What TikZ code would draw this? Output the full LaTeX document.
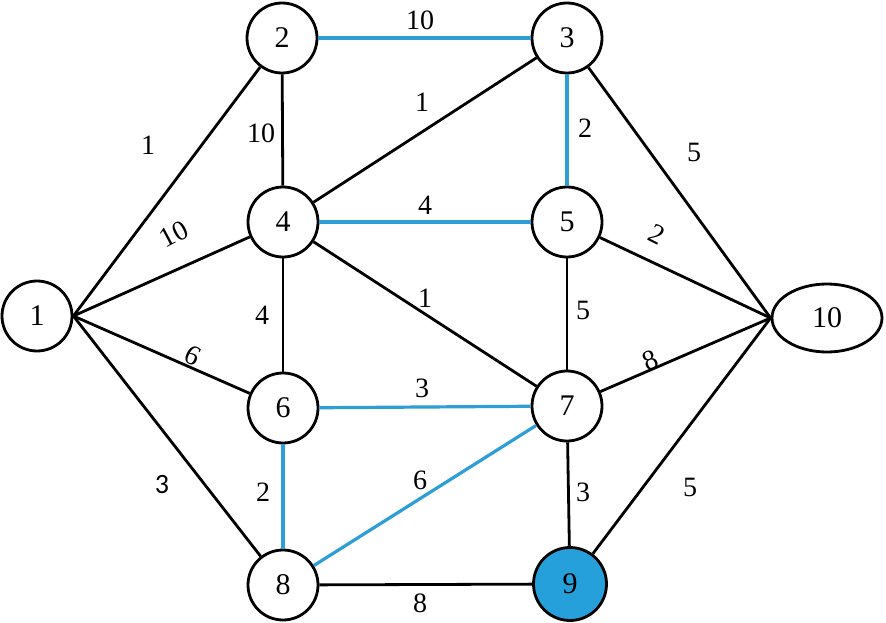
\documentclass[tikz,border=0pt]{standalone}
\usepackage{fontspec}
\setmainfont{Liberation Serif}
\newfontfamily\sansnum{Carlito}
\usetikzlibrary{shapes.geometric}
\definecolor{eblue}{RGB}{46,158,214}
\definecolor{nblue}{RGB}{38,160,218}
\begin{document}
\begin{tikzpicture}[x=1pt,y=-1pt,
  vert/.style={circle,draw=black,line width=2.8pt,minimum size=70pt,inner sep=0pt,font=\fontsize{30}{34}\selectfont,fill=white},
  wlab/.style={font=\fontsize{28}{32}\selectfont,inner sep=0pt},
  bl/.style={draw=black,line width=2.8pt},
  be/.style={draw=eblue,line width=3.2pt}]
\useasboundingbox (0,0) rectangle (886,623);
\fill[white] (0,0) rectangle (886,623);
\node[vert] (n1) at (37,316) {1};
\node[vert] (n2) at (282,38) {2};
\node[vert] (n3) at (567,38) {3};
\node[vert] (n4) at (283,222) {4};
\node[vert] (n5) at (567,222) {5};
\node[vert] (n6) at (283,408) {6};
\node[vert] (n7) at (567,406) {7};
\node[vert] (n8) at (283,585) {8};
\node[vert,fill=nblue,minimum size=73pt] (n9) at (570,584) {9};
\node[vert,ellipse,minimum width=110pt,minimum height=68pt] (n10) at (827,318) {10};
% black edges
\draw[bl] (n1.east) -- (n2);
\draw[bl] (n1.east) -- (n4);
\draw[bl] (n1.east) -- (n6);
\draw[bl] (n1.east) -- (n8);
\draw[bl] (n2) -- (n4);
\draw[bl] (n3) -- (n4);
\draw[bl] (n3) -- (n10.west);
\draw[bl] (n4) -- (n6);
\draw[bl] (n4) -- (n7);
\draw[bl] (n5) -- (n7);
\draw[bl] (n5) -- (n10.west);
\draw[bl] (n7) -- (n9);
\draw[bl] (n7) -- (n10.west);
\draw[bl] (n8) -- (n9);
\draw[bl] (n9) -- (n10.west);
% blue edges
\draw[be] (n2) -- (n3);
\draw[be] (n3) -- (n5);
\draw[be] (n4) -- (n5);
\draw[be] (n6) -- (n7);
\draw[be] (n6) -- (n8);
\draw[be] (n7) -- (n8);
% labels
\node[wlab] (l12) at (148,145) {1};
\node[wlab,rotate=28] (l14) at (174,234) {10};
\node[wlab,rotate=-27] (l16) at (193,356) {6};
\node[wlab] (l18) at (162,485) {\sansnum 3};
\node[wlab] (l23) at (420,20) {10};
\node[wlab] (l24) at (261,133) {10};
\node[wlab] (l34) at (422,102) {1};
\node[wlab] (l35) at (585,128) {2};
\node[wlab] (l310) at (694,152) {5};
\node[wlab] (l45) at (425,205) {4};
\node[wlab] (l46) at (262,315) {4};
\node[wlab] (l47) at (425,298) {1};
\node[wlab] (l57) at (583,310) {5};
\node[wlab,rotate=-27] (l510) at (657,234) {2};
\node[wlab] (l67) at (422,388) {3};
\node[wlab] (l68) at (263,492) {2};
\node[wlab] (l78) at (420,480) {6};
\node[wlab] (l79) at (583,492) {3};
\node[wlab,rotate=23] (l710) at (650,360) {8};
\node[wlab] (l89) at (420,603) {8};
\node[wlab] (l910) at (690,487) {5};
\end{tikzpicture}
\end{document}
